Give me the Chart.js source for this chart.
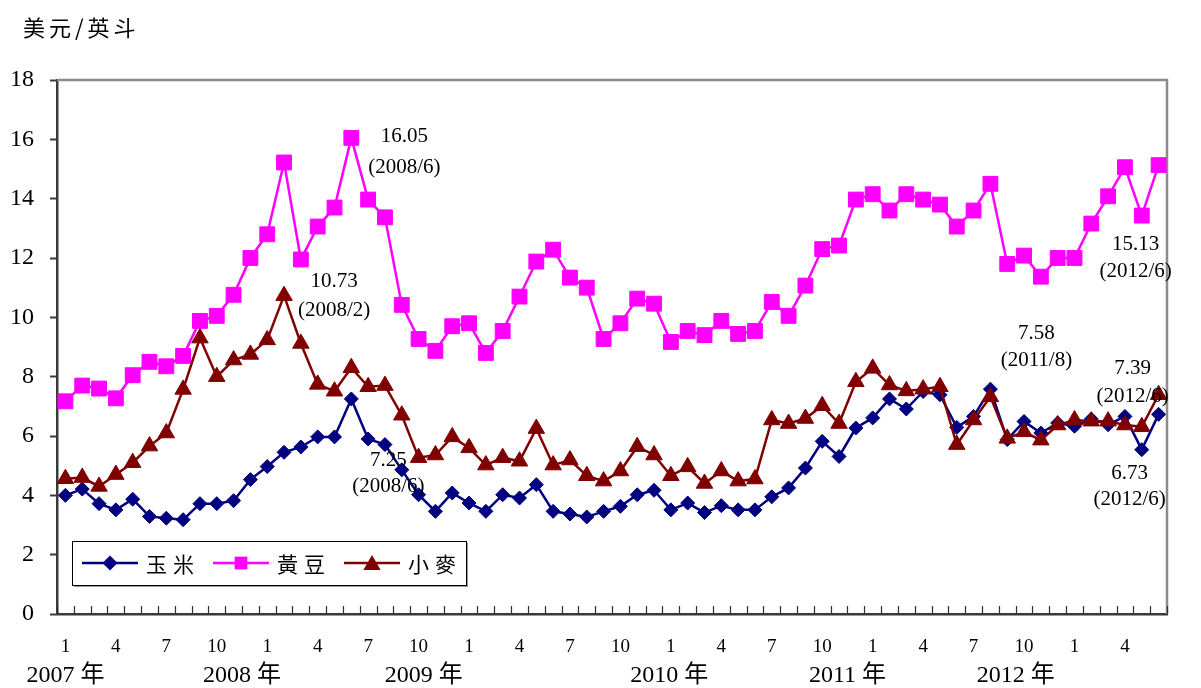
<!DOCTYPE html>
<html>
<head>
<meta charset="utf-8">
<script src="https://cdn.jsdelivr.net/npm/chart.js@4.4.1/dist/chart.umd.min.js"></script>
<style>
  html, body { margin: 0; padding: 0; background: #ffffff; }
  canvas { display: block; }
</style>
</head>
<body>
<canvas id="chart" width="1201" height="688"></canvas>
<script>
// Monthly price, US$ per bushel, 2007/1 – 2012/6
const startYear = 2007;
const months = [
  1, 2, 3, 4, 5, 6, 7, 8, 9, 10, 11, 12,
  1, 2, 3, 4, 5, 6, 7, 8, 9, 10, 11, 12,
  1, 2, 3, 4, 5, 6, 7, 8, 9, 10, 11, 12,
  1, 2, 3, 4, 5, 6, 7, 8, 9, 10, 11, 12,
  1, 2, 3, 4, 5, 6, 7, 8, 9, 10, 11, 12,
  1, 2, 3, 4, 5, 6
];
const yearLabels = ['2007 年', '2008 年', '2009 年', '2010 年', '2011 年', '2012 年'];
const monthTickLabels = [1, 4, 7, 10];
const yTicks = [0, 2, 4, 6, 8, 10, 12, 14, 16, 18];

const seriesNames = ['玉米', '黃豆', '小麥'];

const corn = [
  4.00, 4.21, 3.72, 3.51, 3.87, 3.29, 3.23, 3.18, 3.72, 3.72, 3.82, 4.53,
  4.97, 5.45, 5.63, 5.97, 5.97, 7.25, 5.90, 5.71, 4.86, 4.02, 3.46, 4.08,
  3.74, 3.46, 4.02, 3.91, 4.36, 3.46, 3.37, 3.27, 3.46, 3.63, 4.02, 4.17,
  3.51, 3.74, 3.42, 3.65, 3.51, 3.51, 3.95, 4.25, 4.92, 5.82, 5.31, 6.27,
  6.61, 7.25, 6.91, 7.50, 7.39, 6.29, 6.66, 7.58, 5.88, 6.49, 6.10, 6.44,
  6.33, 6.57, 6.38, 6.66, 5.54, 6.73
];
const soybean = [
  7.17, 7.70, 7.60, 7.27, 8.05, 8.50, 8.35, 8.70, 9.88, 10.05, 10.76, 12.00,
  12.80, 15.22, 11.95, 13.06, 13.70, 16.05, 13.97, 13.37, 10.42, 9.27, 8.87, 9.70,
  9.80, 8.80, 9.54, 10.70, 11.88, 12.28, 11.34, 11.00, 9.27, 9.80, 10.63, 10.46,
  9.17, 9.54, 9.40, 9.88, 9.44, 9.54, 10.52, 10.05, 11.07, 12.30, 12.42, 13.97,
  14.15, 13.60, 14.15, 13.97, 13.80, 13.06, 13.60, 14.50, 11.80, 12.08, 11.37, 12.00,
  12.00, 13.16, 14.08, 15.06, 13.43, 15.13
];
const wheat = [
  4.56, 4.60, 4.30, 4.70, 5.10, 5.66, 6.10, 7.57, 9.30, 8.00, 8.56, 8.75,
  9.24, 10.73, 9.12, 7.74, 7.51, 8.30, 7.66, 7.70, 6.70, 5.27, 5.36, 5.97,
  5.60, 5.02, 5.27, 5.15, 6.25, 5.02, 5.19, 4.66, 4.48, 4.82, 5.64, 5.36,
  4.66, 4.96, 4.40, 4.82, 4.48, 4.55, 6.54, 6.42, 6.59, 7.02, 6.42, 7.83,
  8.28, 7.72, 7.52, 7.58, 7.66, 5.71, 6.54, 7.32, 5.92, 6.14, 5.86, 6.37,
  6.54, 6.50, 6.50, 6.37, 6.31, 7.39
];

const SERIF = '"Liberation Serif", "Times New Roman", "Noto Sans CJK TC", serif';
const CJK = '"Noto Sans CJK TC", "Noto Sans CJK SC", sans-serif';

const COLORS = { corn: '#000080', soybean: '#FF00FF', wheat: '#800000' };

// Value call-outs: [dataset index, point index, label offset from the point]
const callouts = [
  { ds: 1, idx: 17, dx: 53, dy: [-1, 30] },
  { ds: 2, idx: 13, dx: 50, dy: [-14, 15] },
  { ds: 0, idx: 17, dx: 37, dy: [62, 88] },
  { ds: 0, idx: 55, dx: 46, dy: [-56, -29] },
  { ds: 2, idx: 65, dx: -26, dy: [-26, 2] },
  { ds: 0, idx: 65, dx: -29, dy: [59, 85] },
  { ds: 1, idx: 65, dx: -23, dy: [79, 106] }
];

function drawMarker(ctx, style, x, y, r, color) {
  ctx.save();
  ctx.fillStyle = color;
  ctx.beginPath();
  if (style === 'rectRot') {
    ctx.moveTo(x - r, y); ctx.lineTo(x, y - r); ctx.lineTo(x + r, y); ctx.lineTo(x, y + r);
  } else if (style === 'rect') {
    const s = Math.SQRT1_2 * r;
    ctx.rect(x - s, y - s, 2 * s, 2 * s);
  } else {
    ctx.moveTo(x, y - r);
    ctx.lineTo(x + r * Math.sin(Math.PI * 2 / 3), y - r * Math.cos(Math.PI * 2 / 3));
    ctx.lineTo(x + r * Math.sin(Math.PI * 4 / 3), y - r * Math.cos(Math.PI * 4 / 3));
  }
  ctx.closePath();
  ctx.fill();
  ctx.restore();
}

const frameAndTicks = {
  id: 'frameAndTicks',
  beforeDatasetsDraw(chart) {
    const { ctx, chartArea: a, scales: { x } } = chart;
    ctx.save();
    // top and right frame
    ctx.strokeStyle = '#8c8c8c';
    ctx.lineWidth = 2.5;
    ctx.beginPath();
    ctx.moveTo(a.left, a.top);
    ctx.lineTo(a.right, a.top);
    ctx.lineTo(a.right, a.bottom);
    ctx.stroke();
    // month tick marks pointing into the plot
    ctx.strokeStyle = '#303030';
    ctx.lineWidth = 1.2;
    ctx.beginPath();
    for (let i = 0; i <= months.length; i++) {
      const px = Math.round(x.getPixelForValue(i - 0.5)) + 0.5;
      ctx.moveTo(px, a.bottom);
      ctx.lineTo(px, a.bottom - 8);
    }
    ctx.stroke();
    ctx.restore();
  }
};

const textLayer = {
  id: 'textLayer',
  afterDraw(chart, args, opts) {
    const { ctx, chartArea: a, scales: { x, y } } = chart;
    ctx.save();

    // unit title
    ctx.fillStyle = '#000';
    ctx.font = '22px ' + CJK;
    ctx.letterSpacing = '4px';
    ctx.textAlign = 'left';
    ctx.textBaseline = 'middle';
    ctx.fillText('美元/英斗', 23, 28);
    ctx.letterSpacing = '0px';

    // year captions beneath the month labels
    ctx.font = '24px ' + SERIF;
    ctx.textAlign = 'center';
    ctx.textBaseline = 'middle';
    yearLabels.forEach((t, k) => {
      ctx.fillText(t, x.getPixelForValue(opts.yearAt[k]), 676);
    });

    // value call-outs
    ctx.font = '21px ' + SERIF;
    callouts.forEach(c => {
      const v = chart.data.datasets[c.ds].data[c.idx];
      const px = x.getPixelForValue(c.idx);
      const py = y.getPixelForValue(v);
      const yr = startYear + Math.floor(c.idx / 12);
      ctx.fillText(v.toFixed(2), px + c.dx, py + c.dy[0]);
      ctx.fillText('(' + yr + '/' + months[c.idx] + ')', px + c.dx, py + c.dy[1]);
    });

    // legend box
    const bx = a.left + 15, by = a.bottom - 73, bw = 394, bh = 44;
    ctx.fillStyle = '#9a9a9a';
    ctx.fillRect(bx + 2, by + 2, bw, bh);
    ctx.fillStyle = '#ffffff';
    ctx.fillRect(bx, by, bw, bh);
    ctx.strokeStyle = '#000';
    ctx.lineWidth = 1;
    ctx.strokeRect(bx + 0.5, by + 0.5, bw, bh);

    const cy = by + 22;
    const entries = [
      { off: 10, color: COLORS.corn, style: 'rectRot', r: 7.5 },
      { off: 141, color: COLORS.soybean, style: 'rect', r: 9 },
      { off: 272, color: COLORS.wheat, style: 'triangle', r: 10 }
    ];
    ctx.font = '21px ' + CJK;
    ctx.letterSpacing = '6px';
    ctx.textAlign = 'left';
    entries.forEach((e, k) => {
      ctx.strokeStyle = e.color;
      ctx.lineWidth = 2.5;
      ctx.beginPath();
      ctx.moveTo(bx + e.off, cy);
      ctx.lineTo(bx + e.off + 56, cy);
      ctx.stroke();
      drawMarker(ctx, e.style, bx + e.off + 28, cy + (e.style === 'triangle' ? 2 : 0), e.r, e.color);
      ctx.fillStyle = '#000';
      ctx.fillText(seriesNames[k], bx + e.off + 64, cy + 1);
    });
    ctx.restore();
  }
};

function lineSet(label, data, color, style, radius, order) {
  return {
    label, data, order,
    borderColor: color,
    backgroundColor: color,
    borderWidth: 2.5,
    pointStyle: style,
    pointRadius: radius,
    pointBackgroundColor: color,
    pointBorderColor: color,
    pointBorderWidth: 1,
    tension: 0,
    clip: false
  };
}

new Chart(document.getElementById('chart'), {
  type: 'line',
  data: {
    labels: months.map(String),
    datasets: [
      lineSet(seriesNames[0], corn, COLORS.corn, 'rectRot', 7, 3),
      lineSet(seriesNames[1], soybean, COLORS.soybean, 'rect', 10.5, 2),
      lineSet(seriesNames[2], wheat, COLORS.wheat, 'triangle', 9.5, 1)
    ]
  },
  options: {
    responsive: false,
    devicePixelRatio: 1,
    animation: false,
    events: [],
    layout: { padding: { top: 80, right: 34, left: 0, bottom: 0 } },
    plugins: {
      legend: { display: false },
      tooltip: { enabled: false },
      textLayer: { yearAt: [0, 10.5, 21.3, 35.9, 46.5, 56.5] }
    },
    scales: {
      x: {
        type: 'category',
        offset: true,
        afterFit(s) { s.height = 74; },
        grid: { display: true, offset: true, drawOnChartArea: false, drawTicks: false },
        border: { display: true, color: '#3a3a3a', width: 2.5 },
        ticks: {
          autoSkip: false,
          maxRotation: 0,
          padding: 22,
          color: '#000',
          font: { family: SERIF, size: 19 },
          callback(v, i) { return monthTickLabels.includes(months[i]) ? String(months[i]) : ''; }
        }
      },
      y: {
        min: 0,
        max: 18,
        afterFit(s) { s.width = 57; },
        afterBuildTicks(s) { s.ticks = yTicks.map(v => ({ value: v })); },
        grid: { drawOnChartArea: false, drawTicks: true, tickLength: 7, tickColor: '#3a3a3a', tickWidth: 2 },
        border: { display: true, color: '#3a3a3a', width: 2.5 },
        ticks: {
          padding: 16,
          color: '#000',
          font: { family: SERIF, size: 24 }
        }
      }
    }
  },
  plugins: [frameAndTicks, textLayer]
});
</script>
</body>
</html>
